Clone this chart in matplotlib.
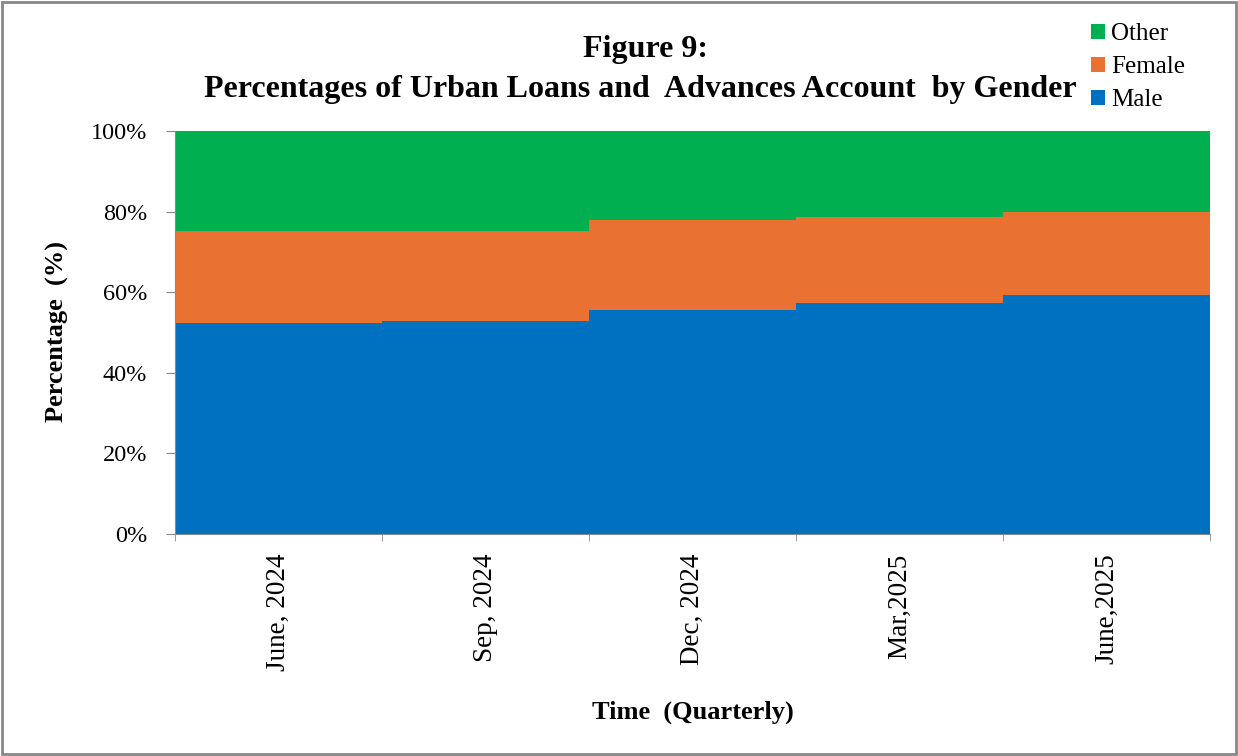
import numpy as np
import matplotlib
matplotlib.use('Agg')
import matplotlib.pyplot as plt
from matplotlib.patches import Rectangle

# datos
quarters = ['June, 2024', 'Sep, 2024', 'Dec, 2024', 'Mar,2025', 'June,2025']
male = [52.4, 52.8, 55.6, 57.3, 59.4]
female = [22.7, 22.3, 22.2, 21.3, 20.4]
other = [24.9, 24.9, 22.2, 21.4, 20.2]

c_male = '#0070C0'
c_female = '#E97132'
c_other = '#00B050'

plt.rcParams['font.family'] = ['Liberation Serif', 'DejaVu Serif']

W, H = 1238, 756
fig = plt.figure(figsize=(W/100, H/100), dpi=100)
ax = fig.add_axes([175/W, 1-534/H, (1210-175)/W, (534-131)/H])

x = np.arange(len(quarters))
ax.bar(x, male, width=1.0, color=c_male, label='Male', linewidth=0)
ax.bar(x, female, width=1.0, bottom=male, color=c_female, label='Female', linewidth=0)
ax.bar(x, other, width=1.0, bottom=np.array(male)+np.array(female), color=c_other, label='Other', linewidth=0)

ax.set_xlim(-0.5, len(quarters)-0.5)
ax.set_ylim(0, 100)
ax.set_yticks([0, 20, 40, 60, 80, 100])
ax.set_yticklabels([f'{v}%' for v in range(0, 101, 20)], fontsize=17.5)
ax.set_xticks(x)
ax.set_xticklabels(quarters, rotation=90, fontsize=19.5)
ax.tick_params(axis='x', length=0, pad=14)
ax.set_xticks(np.arange(-0.5, len(quarters)), minor=True)
ax.tick_params(axis='x', which='minor', length=5, color='#888888')
ax.tick_params(axis='y', length=6.5, color='#888888', pad=13.5)
for s in ['top', 'right']:
    ax.spines[s].set_visible(False)
for s in ['left', 'bottom']:
    ax.spines[s].set_color('#888888')

# etiquetas de ejes
fig.text(57/W, 1-332/H, 'Percentage  (%)', rotation=90, ha='center', va='center',
         fontsize=19, fontweight='bold')
fig.text(693/W, 1-712/H, 'Time  (Quarterly)', ha='center', va='center',
         fontsize=19, fontweight='bold')

fig.text(645/W, 1-50/H, 'Figure 9:', ha='center', va='center', fontsize=23, fontweight='bold')
fig.text(640/W, 1-89/H, 'Percentages of Urban Loans and  Advances Account  by Gender',
         ha='center', va='center', fontsize=23, fontweight='bold')

h, l = ax.get_legend_handles_labels()
fig.legend(h[::-1], l[::-1], loc='upper left', bbox_to_anchor=(1091/W, 1-23/H),
           frameon=False, fontsize=18, handlelength=0.55, handleheight=0.55,
           handletextpad=0.25, labelspacing=0.45, borderaxespad=0, borderpad=0)

fig.patches.append(Rectangle((0.002, 0.002), 0.996, 0.996, transform=fig.transFigure,
                             fill=False, edgecolor='#888888', linewidth=2))

plt.savefig('out.png', dpi=100)
